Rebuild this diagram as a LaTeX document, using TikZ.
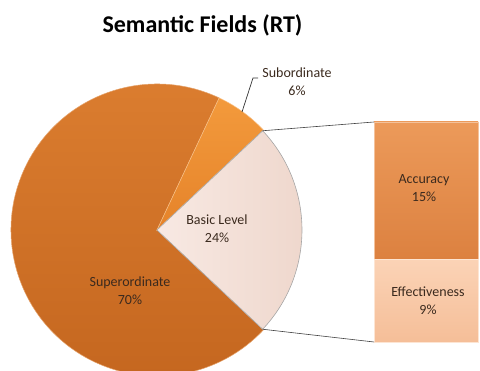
\documentclass[tikz,border=0pt]{standalone}
\usepackage{fontspec}
\setmainfont{Carlito}
\definecolor{supA}{HTML}{DC7E30}
\definecolor{supB}{HTML}{C4661F}
\definecolor{subA}{HTML}{F39A3C}
\definecolor{subB}{HTML}{E5832A}
\definecolor{basA}{HTML}{F8E9E3}
\definecolor{basB}{HTML}{EED6CB}
\definecolor{accA}{HTML}{EC9A5A}
\definecolor{accB}{HTML}{DC8140}
\definecolor{effA}{HTML}{FBD3B6}
\definecolor{effB}{HTML}{F5BE98}
\definecolor{lbl}{HTML}{3B2A1E}
\tikzset{
  lab/.style={font=\fontsize{14}{18}\selectfont, text=lbl, align=center, inner sep=0pt},
  conn/.style={draw=black!75, line width=0.6pt}
}
\begin{document}
\begin{tikzpicture}[x=1pt,y=1pt]
\useasboundingbox (0,0) rectangle (480,371);
\clip (0,0) rectangle (480,371);
\coordinate (C) at (157,141);
% superordinate
\path[top color=supA, bottom color=supB, draw=supA!70!white, line width=0.5pt]
  (C) -- ++(64.8:146) arc[start angle=64.8, end angle=316.8, radius=146] -- cycle;
% subordinate
\path[top color=subA, bottom color=subB, draw=subA!60!white, line width=0.5pt]
  (C) -- ++(43.2:146) arc[start angle=43.2, end angle=64.8, radius=146] -- cycle;
% basic level
\path[left color=basA, right color=basB, draw=black!35, line width=0.6pt]
  (C) -- ++(-43.2:145) coordinate (bl) arc[start angle=-43.2, end angle=43.2, radius=145] coordinate (bu) -- cycle;
% bar
\path[top color=accA, bottom color=accB, draw=accA!60!white, line width=0.5pt]
  (374,111.5) rectangle (478,249);
\path[top color=effA, bottom color=effB, draw=effA!60!white, line width=0.5pt]
  (374,29) rectangle (478,111.5);
\coordinate (tu) at (374,249);
\coordinate (tl) at (374,29);
\draw[conn] (bu) -- (tu);
\draw[conn] (bl) -- (tl);
% leader
\coordinate (la) at (242,259);
\coordinate (lb) at (253,293);
\coordinate (lc) at (258,293);
\draw[black!80, line width=0.7pt] (la) -- (lb) -- (lc);
% labels
\node[font=\fontsize{24}{28}\selectfont\bfseries, anchor=base, inner sep=0pt] (title) at (202.5,338) {Semantic Fields (RT)};
\node[lab] (sub) at (297,289) {Subordinate\\6\%};
\node[lab] (bas) at (217,142) {Basic Level\\24\%};
\node[lab] (sup) at (130,80) {Superordinate\\70\%};
\node[lab] (acc) at (424,182.5) {Accuracy\\15\%};
\node[lab] (eff) at (428,70) {Effectiveness\\9\%};
\end{tikzpicture}
\end{document}
